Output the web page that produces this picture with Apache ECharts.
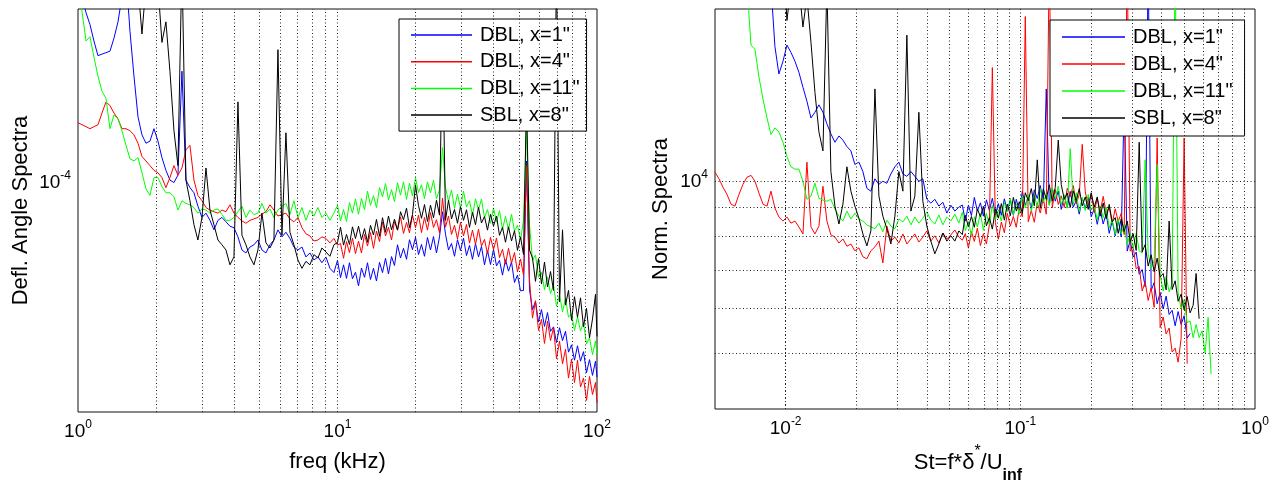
<!DOCTYPE html>
<html>
<head>
<meta charset="utf-8">
<script src="https://cdn.jsdelivr.net/npm/echarts@6/dist/echarts.min.js"></script>
<style>
html, body { margin: 0; padding: 0; background: #fff; }
#chart { width: 1279px; height: 485px; }
</style>
</head>
<body>
<div id="chart"></div>
<script>
// ---- left panel: freq (kHz) vs deflection angle spectra (values in units of 1e-5) ----
var freq = [1.00, 1.036, 1.074, 1.112, 1.152, 1.194, 1.237, 1.282, 1.328, 1.376, 1.426, 1.477, 1.531, 1.586, 1.643, 1.703, 1.764, 1.828, 1.894, 1.962,
  2.033, 2.106, 2.182, 2.261, 2.343, 2.427, 2.515, 2.606, 2.700, 2.798, 2.898, 3.004, 3.113, 3.225, 3.341, 3.462, 3.587, 3.717, 3.851, 3.990,
  4.134, 4.284, 4.438, 4.598, 4.765, 4.937, 5.115, 5.300, 5.491, 5.689, 5.895, 6.108, 6.329, 6.557, 6.794, 7.039, 7.294, 7.557, 7.830, 8.113,
  8.406, 8.709, 9.024, 9.350, 9.687,
  10.00, 10.27, 10.55, 10.83, 11.12, 11.42, 11.73, 12.05, 12.37, 12.71, 13.05, 13.40, 13.76, 14.13, 14.52, 14.91, 15.31, 15.72, 16.15, 16.58,
  17.03, 17.49, 17.96, 18.45, 18.94, 19.45, 19.98, 20.52, 21.07, 21.64, 22.22, 22.82, 23.44, 24.07, 24.72, 25.39, 26.07, 26.78, 27.50, 28.24,
  29.00, 29.78, 30.59, 31.41, 32.26, 33.13, 34.02, 34.94, 35.88, 36.85, 37.85, 38.87, 39.92, 40.99, 42.10, 43.23, 44.40, 45.60, 46.83, 48.09,
  49.39, 50.73, 52.09, 53.50, 54.94, 56.42, 57.94, 59.51, 61.11, 62.76, 64.46, 66.20, 67.98, 69.82, 71.70, 73.64, 75.62, 77.66, 79.76, 81.91,
  84.12, 86.39, 88.72, 91.11, 93.57, 96.09, 98.69, 100];

var leftBlue = [24, 21, 19.7, 18.8, 17.6, 16.6, 16.7, 16.8, 16.9, 17.8, 19.0, 21, 23, 18.3, 15.3, 13.0, 12.1, 11.7, 11.8, 12.4,
  11.8, 11.05, 10.5, 10.1, 10.0, 10.3, 15.6, 10.1, 9.8, 9.6, 9.1, 8.7, 8.85, 8.6, 8.28, 8.6, 8.7, 8.55, 8.4, 8.35,
  8.05, 7.64, 7.55, 7.73, 7.8, 7.95, 7.64, 7.55, 7.8, 7.95, 8.28, 8.05, 8.2, 8.0, 7.73, 7.64, 7.73, 7.43, 7.55, 7.34,
  7.43, 7.26, 7.43, 7.1, 6.98,
  7.33, 6.84, 7.20, 6.82, 7.26, 6.81, 6.99, 6.62, 7.11, 6.85, 7.26, 6.79, 7.10, 6.75, 7.27, 6.98, 7.39, 6.94, 7.44, 7.18,
  7.80, 7.40, 7.69, 7.36, 7.96, 7.65, 8.04, 7.50, 7.81, 7.45, 8.03, 7.64, 8.06, 7.55, 8.05, 8.9, 8.14, 7.64, 7.84, 7.45,
  7.96, 7.62, 8.01, 7.47, 7.78, 7.36, 7.84, 7.43, 7.75, 7.20, 7.62, 7.21, 7.66, 7.17, 7.33, 6.91, 7.35, 7.02, 7.28, 6.71,
  6.91, 6.49, 6.5, 10.9, 6.52, 6.02, 6.22, 5.73, 6.02, 5.63, 5.95, 5.52, 5.62, 5.28, 5.60, 5.32, 5.52, 5.08, 5.23, 4.92,
  5.21, 4.90, 5.09, 4.68, 4.93, 4.63, 4.90, 4.60];

var leftRed = [12.7, 12.6, 12.5, 12.4, 12.5, 12.6, 13.2, 13.8, 13.6, 13.2, 12.9, 12.4, 12.4, 12.3, 12.1, 11.7, 11.1, 10.9, 10.7, 10.5,
  10.4, 10.2, 9.8, 10.2, 10.7, 10.3, 10.6, 11.4, 11.6, 10.1, 9.5, 9.3, 9.05, 8.96, 8.9, 8.85, 8.96, 8.9, 9.15, 8.85,
  8.7, 8.58, 8.5, 8.6, 8.65, 8.7, 8.82, 8.9, 9.15, 8.96, 8.75, 8.8, 8.85, 8.65, 8.55, 8.7, 8.35, 8.15, 8.08, 7.92,
  7.95, 8.05, 8.0, 7.86, 8.0,
  7.79, 7.84, 7.39, 7.90, 7.56, 8.01, 7.53, 7.91, 7.55, 8.13, 7.76, 8.19, 7.69, 8.24, 7.90, 8.54, 8.08, 8.36, 7.95, 8.56,
  8.27, 8.72, 8.16, 8.53, 8.18, 8.78, 8.35, 8.78, 8.19, 8.70, 8.27, 8.87, 8.36, 8.62, 8.18, 9.4, 8.37, 8.75, 8.13, 8.43,
  7.98, 8.53, 8.08, 8.46, 7.85, 8.27, 7.81, 8.30, 7.76, 7.97, 7.52, 8.03, 7.65, 8.01, 7.41, 7.66, 7.22, 7.69, 7.25, 7.56,
  7.00, 7.37, 6.91, 10.7, 6.78, 5.82, 6.24, 5.54, 5.79, 5.26, 5.75, 5.32, 5.60, 4.95, 5.31, 4.85, 5.14, 4.58, 4.94, 4.50,
  4.92, 4.42, 4.58, 4.19, 4.61, 4.29, 4.50, 4.15];

var leftGreen = [23, 19.8, 17.6, 17.9, 16.5, 15.3, 14.4, 14.0, 12.4, 13.1, 12.9, 12.3, 11.6, 11.0, 10.9, 11.05, 10.4, 9.75, 9.5, 10.2,
  10.2, 9.85, 9.6, 9.6, 9.45, 8.96, 9.3, 9.2, 9.15, 9.05, 8.85, 9.0, 8.96, 8.85, 8.96, 9.0, 8.8, 8.6, 8.6, 8.7,
  8.9, 9.1, 8.7, 8.96, 8.8, 8.85, 9.2, 8.85, 9.0, 8.7, 8.96, 9.1, 9.2, 8.8, 9.3, 8.7, 9.05, 8.6, 8.96, 8.75,
  9.05, 8.7, 8.85, 8.6, 8.85,
  9.13, 8.58, 8.98, 8.56, 9.23, 8.85, 9.37, 8.81, 9.39, 8.97, 9.66, 9.13, 9.49, 9.05, 9.80, 9.44, 9.96, 9.33, 9.72, 9.27,
  9.99, 9.51, 10.03, 9.35, 9.97, 9.48, 10.20, 9.61, 9.91, 9.38, 10.03, 9.60, 10.09, 9.37, 9.72, 11.5, 9.80, 9.28, 9.71, 9.02,
  9.55, 9.04, 9.66, 9.07, 9.30, 8.77, 9.37, 8.98, 9.36, 8.69, 8.98, 8.50, 9.04, 8.54, 8.94, 8.29, 8.74, 8.28, 8.81, 8.24,
  8.43, 7.95, 8.6, 12.3, 8.45, 7.33, 7.49, 6.85, 6.99, 6.52, 6.86, 6.42, 6.64, 6.10, 6.38, 5.97, 6.29, 5.84, 5.92, 5.54,
  5.85, 5.53, 5.72, 5.25, 5.38, 5.03, 5.31, 5.04];

var leftBlack = [25, 25, 25, 25, 25, 25, 25, 25, 25, 25, 25, 25, 25, 25, 25, 22, 18.1, 22, 24, 24,
  22, 17.5, 19.0, 15.6, 12.3, 10.7, 24, 10.1, 9.3, 8.45, 7.95, 8.7, 10.6, 8.96, 8.45, 7.95, 7.8, 7.64, 7.2, 7.43,
  13.8, 8.1, 7.8, 7.43, 7.2, 7.64, 8.85, 7.86, 7.7, 7.95, 17.0, 8.1, 12.2, 8.2, 7.8, 7.34, 7.1, 7.3, 7.2, 7.5,
  7.4, 7.7, 7.58, 7.45, 7.8,
  7.87, 8.37, 7.79, 8.13, 7.81, 8.38, 8.00, 8.40, 7.96, 8.32, 7.88, 8.43, 8.11, 8.63, 8.07, 8.69, 8.20, 8.75, 8.28, 8.64,
  8.27, 8.90, 8.62, 9.03, 8.35, 8.80, 9.9, 9.12, 8.67, 9.16, 8.56, 9.14, 8.69, 9.32, 8.78, 18, 8.60, 9.32, 8.65, 8.98,
  8.50, 9.08, 8.60, 8.97, 8.36, 8.88, 8.45, 9.06, 8.51, 8.73, 8.27, 8.81, 8.40, 8.75, 8.10, 8.36, 7.88, 8.38, 7.92, 8.25,
  7.63, 8.05, 7.50, 14, 7.64, 7.40, 6.74, 7.38, 6.67, 7.28, 6.59, 7.01, 6.50, 25, 6.21, 8.28, 6.13, 6.50, 5.77, 6.34,
  5.84, 6.31, 5.62, 6.05, 5.38, 5.80, 6.4, 5.41];

// ---- right panel: Strouhal number vs normalised spectra (values in units of 1e3) ----
var st = [0.00500, 0.00520, 0.00541, 0.00562, 0.00585, 0.00608, 0.00633, 0.00658, 0.00684, 0.00712, 0.00740, 0.00770, 0.00801, 0.00833, 0.00866,
  0.00900, 0.00936, 0.00974, 0.01013, 0.01053, 0.01096, 0.01139, 0.01185, 0.01232, 0.01282, 0.01333, 0.01386, 0.01442, 0.01499, 0.01559,
  0.01622, 0.01687, 0.01754, 0.01824, 0.01897, 0.01973, 0.02052, 0.02134, 0.02219, 0.02308, 0.02401, 0.02497, 0.02596, 0.02700, 0.02808,
  0.02921, 0.03037, 0.03159, 0.03285, 0.03417, 0.03553, 0.03695, 0.03843, 0.03997, 0.04157, 0.04323, 0.04496, 0.04676, 0.04863, 0.05058,
  0.05260, 0.05470,
  0.0566, 0.0583, 0.0601, 0.0619, 0.0637, 0.0656, 0.0676, 0.0696, 0.0717, 0.0738, 0.0760, 0.0783, 0.0806, 0.0830, 0.0855, 0.0880, 0.0907,
  0.0934, 0.0961, 0.0990, 0.1020, 0.1050, 0.1081, 0.1114, 0.1147, 0.1181, 0.1216, 0.1253, 0.1290, 0.1329, 0.1368, 0.1409, 0.1451, 0.1494,
  0.1539, 0.1585, 0.1632, 0.1681, 0.1731, 0.1783, 0.1836, 0.1891, 0.1947, 0.2005, 0.2065, 0.2127, 0.2190, 0.2255, 0.2323, 0.2392, 0.2463,
  0.2537, 0.2613, 0.2691, 0.2771, 0.2854, 0.2939, 0.3026, 0.3117, 0.3210, 0.3305, 0.3404, 0.3506, 0.3610, 0.3718, 0.3829, 0.3943, 0.4061,
  0.4182, 0.4307, 0.4435, 0.4568, 0.4704, 0.4844, 0.4989, 0.5138, 0.5291, 0.5449, 0.5612, 0.5779, 0.5952, 0.6129, 0.6312, 0.6500];

var rightBlue = [25, 25, 25, 25, 25, 25, 25, 25, 25, 25, 25, 25, 25, 25, 22, 17.2, 15.4, 16.2, 17.3, 16.8,
  16.2, 15.5, 14.6, 13.8, 12.9, 13.2, 13.6, 13.2, 12.6, 12.1, 11.7, 12.0, 11.8, 11.5, 11.3, 10.7, 10.8, 10.4, 9.72, 9.61,
  10.1, 9.88, 10.0, 9.92, 10.3, 10.6, 10.8, 10.3, 10.2, 10.4, 10.2, 10.0, 10.1, 9.30, 9.16, 9.30, 9.05, 9.19, 8.80, 9.08,
  8.87, 9.01,
  9.09, 8.52, 9.09, 8.71, 9.37, 8.87, 9.17, 8.69, 9.28, 8.89, 9.34, 8.74, 9.14, 8.72, 9.32, 8.87, 9.28, 8.72, 9.30, 8.89,
  9.60, 9.08, 9.39, 8.97, 9.66, 9.33, 9.83, 9.17, 14.5, 9.11, 9.73, 9.23, 9.62, 8.93, 9.46, 8.99, 9.60, 9.01, 9.25, 8.76,
  9.35, 8.96, 9.37, 8.67, 8.96, 8.41, 8.92, 8.42, 8.78, 8.11, 8.52, 8.03, 8.55, 7.99, 13.8, 7.55, 7.88, 7.37, 7.52, 6.88,
  7.01, 6.54, 25, 6.44, 6.65, 6.11, 6.39, 5.98, 6.30, 5.85, 5.95, 5.59, 5.92, 5.62, 5.82, 5.32, 5.42, null, null, null,
  null, null, null, null];

var rightRed = [10.37, 10.1, 9.76, 9.49, 9.12, 9.05, 9.49, 9.88, 10.16, 10.24, 10.0, 9.53, 9.12, 9.05, 9.61, 8.98, 8.66, 8.52, 8.66, 8.45,
  8.52, 8.32, 8.09, 10.8, 8.32, 8.09, 8.35, 9.8, 8.52, 8.06, 7.99, 7.80, 7.93, 7.70, 7.77, 7.56, 7.65, 7.38, 7.32, 7.56,
  7.68, 7.86, 7.20, 8.35, 7.86, 7.99, 7.80, 8.09, 7.77, 7.93, 8.09, 7.83, 7.99, 8.19, 7.86, 8.03, 7.80, 8.12, 7.93, 8.06,
  8.22, 7.99,
  7.89, 8.10, 7.64, 8.17, 7.85, 8.28, 7.72, 8.10, 7.77, 8.39, 15.8, 8.47, 7.92, 8.49, 8.13, 8.79, 8.35, 8.68, 8.31, 8.99,
  8.67, 19.4, 8.50, 8.89, 8.48, 9.18, 8.80, 9.32, 8.76, 25, 8.99, 9.67, 9.11, 9.43, 9.00, 9.73, 9.40, 9.83, 9.14, 9.47,
  11.6, 9.58, 9.08, 9.51, 8.82, 9.34, 8.85, 9.41, 8.80, 9.00, 8.45, 8.95, 8.50, 8.79, 8.07, 25, 7.55, 7.69, 7.03, 7.10,
  6.43, 6.67, 6.19, 6.51, 6.02, 11.9, 5.55, 5.79, 5.41, 5.54, 5.03, 5.11, 4.83, 5.31, 11.9, 4.80, null, null, null, null,
  null, null, null, null];

var rightGreen = [25, 25, 25, 25, 25, 25, 25, 25, 22, 17.3, 17.0, 15.2, 13.9, 12.9, 12.07, 12.4, 12.2, 11.7, 11.05, 10.6,
  10.5, 10.5, 10.0, 9.3, 9.42, 9.92, 9.34, 9.27, 9.23, 9.30, 8.94, 8.69, 8.52, 8.87, 8.59, 8.80, 8.59, 8.52, 8.39, 8.32,
  8.26, 8.45, 8.16, 8.55, 8.35, 8.26, 8.59, 8.49, 8.69, 8.39, 8.66, 8.45, 8.62, 8.84, 8.55, 8.42, 8.73, 8.39, 8.66, 8.52,
  8.76, 8.45,
  8.83, 8.20, 8.50, 8.04, 8.67, 8.32, 8.78, 8.21, 8.79, 8.40, 9.08, 8.58, 8.92, 8.52, 9.18, 8.85, 9.34, 8.74, 9.14, 8.76,
  9.43, 8.98, 9.47, 8.86, 9.46, 9.02, 9.71, 9.19, 9.51, 9.07, 9.73, 9.33, 9.80, 9.10, 9.47, 8.97, 11.4, 9.11, 9.55, 8.86,
  9.37, 8.89, 9.48, 8.90, 9.07, 8.55, 9.06, 8.64, 9.01, 8.29, 8.57, 8.08, 8.60, 8.09, 8.39, 7.73, 8.12, 7.62, 8.11, 7.56,
  7.49, 10.9, 7.48, 7.05, 7.28, 10.7, 6.85, 6.43, 6.82, 6.41, 6.63, 25, 6.39, 5.98, 6.21, 5.66, 5.70, 5.33, 5.62, 5.33,
  5.48, 5.01, 5.78, 4.6];

var rightBlack = [25, 25, 25, 25, 25, 25, 25, 25, 25, 25, 25, 25, 25, 25, 25, 25, 25, 25, 19.1, 22,
  24, 22, 18.6, 21, 17.5, 14.3, 12.2, 11.3, 22, 10.4, 9.05, 8.42, 9.12, 10.6, 9.61, 9.05, 8.62, 8.09, 7.71, 8.19,
  14.5, 9.42, 8.69, 8.26, 7.77, 8.69, 10.4, 9.61, 18.0, 8.87, 9.42, 13.2, 9.23, 8.35, 7.86, 7.47, 7.77, 8.12, 7.86, 8.03,
  7.86, 8.19,
  8.07, 8.72, 8.32, 8.68, 8.31, 8.95, 8.67, 9.04, 8.36, 8.64, 8.25, 8.95, 8.62, 9.14, 8.55, 9.12, 8.71, 9.37, 8.87, 9.21,
  8.79, 9.55, 9.25, 9.71, 9.06, 10.9, 8.97, 9.70, 9.30, 9.86, 9.23, 9.76, 11.8, 9.87, 9.30, 9.54, 9.00, 9.62, 9.25, 9.71,
  9.06, 9.39, 8.93, 9.55, 9.01, 9.39, 8.69, 9.16, 8.60, 9.11, 8.49, 8.64, 8.11, 8.60, 8.17, 8.52, 7.85, 8.10, 7.57, 11.7,
  7.53, 7.75, 7.11, 7.44, 6.95, 7.34, 6.80, 6.90, 6.46, 8.52, 6.47, 6.70, 6.17, 6.35, 5.96, 6.29, 5.89, 6.07, 6.9, 5.75,
  null, null, null, null];

var names = ['DBL, x=1"', 'DBL, x=4"', 'DBL, x=11"', 'SBL, x=8"'];
var colors = ['#0000ff', '#ff0000', '#00ff00', '#000000'];

// grid line positions (MATLAB style log grid)
var leftGridX = [2, 3, 4, 5, 6, 7, 8, 9, 10, 20, 30, 40, 50, 60, 70, 80, 90];
var leftGridY = [5e-5, 6e-5, 7e-5, 8e-5, 9e-5, 1e-4];
var rightGridX = [0.006, 0.007, 0.008, 0.009, 0.01, 0.02, 0.03, 0.04, 0.05, 0.06, 0.07, 0.08, 0.09, 0.1,
  0.2, 0.3, 0.4, 0.5, 0.6, 0.7, 0.8, 0.9];
var rightGridY = [5000, 6000, 7000, 8000, 9000, 10000];

var FONT = '"Liberation Sans", Arial, sans-serif';

function pairs(xs, ys, scale) {
  if (xs.length !== ys.length) throw new Error('length mismatch ' + xs.length + ' vs ' + ys.length);
  return xs.map(function (x, i) {
    return [x, ys[i] == null ? null : ys[i] * scale];
  });
}

function powLabel(v) {
  var l = Math.log10(v);
  var e = Math.round(l);
  if (Math.abs(l - e) > 1e-6) return '';
  return '{b|10}{e|' + e + '}';
}

var labelRich = {
  b: { fontSize: 19, lineHeight: 26, color: '#000', fontFamily: FONT },
  e: { fontSize: 12, color: '#000', fontFamily: FONT, verticalAlign: 'top' }
};

function logAxis(gi, min, max, extra) {
  var ax = {
    type: 'log', logBase: 10, gridIndex: gi, min: min, max: max,
    axisLine: { show: false }, axisTick: { show: false }, splitLine: { show: false },
    axisLabel: { formatter: powLabel, rich: labelRich, margin: 7 },
    nameLocation: 'middle',
    nameTextStyle: { fontSize: 22, color: '#000', fontFamily: FONT }
  };
  for (var k in extra) ax[k] = extra[k];
  return ax;
}

function gridLines(idx, xs, ys) {
  return {
    type: 'line', xAxisIndex: idx, yAxisIndex: idx, data: [], silent: true, z: 1,
    markLine: {
      silent: true, animation: false, symbol: ['none', 'none'],
      label: { show: false }, emphasis: { disabled: true },
      lineStyle: { color: '#222', width: 1, type: [1, 2.5] },
      data: xs.map(function (v) { return { xAxis: v }; })
        .concat(ys.map(function (v) { return { yAxis: v }; }))
    }
  };
}

function spectrum(idx, i, xs, ys, scale) {
  return {
    type: 'line', name: names[i], xAxisIndex: idx, yAxisIndex: idx,
    data: pairs(xs, ys, scale), symbol: 'none', showSymbol: false, silent: true, z: 2,
    lineStyle: { width: 1, color: colors[i] }, itemStyle: { color: colors[i] },
    emphasis: { disabled: true }
  };
}

function legendBox(left, top, lineLen, gap, pad) {
  return {
    data: names, orient: 'vertical', left: left, top: top, selectedMode: false,
    icon: 'rect', itemWidth: lineLen, itemHeight: 1.5, itemGap: gap, padding: pad,
    borderColor: '#000', borderWidth: 1, backgroundColor: '#fff', borderRadius: 0,
    textStyle: { fontSize: 20, lineHeight: 20, color: '#000', fontFamily: FONT, padding: [0, 0, 0, 3] }
  };
}

var chart = echarts.init(document.getElementById('chart'));
chart.setOption({
  animation: false,
  color: colors,
  textStyle: { fontFamily: FONT },
  grid: [
    { left: 78, top: 9, width: 519, height: 403, show: true, borderColor: '#111', borderWidth: 1, backgroundColor: '#fff', outerBoundsMode: 'none', containLabel: false },
    { left: 715, top: 9, width: 540, height: 400, show: true, borderColor: '#111', borderWidth: 1, backgroundColor: '#fff', outerBoundsMode: 'none', containLabel: false }
  ],
  xAxis: [
    logAxis(0, 1, 100, { name: 'freq (kHz)', nameGap: 39 }),
    logAxis(1, 0.005, 1, {
      name: '{n|St=f*δ}{sup|*}{n|/U}{sub|inf}', nameGap: 33,
      nameTextStyle: {
        fontSize: 22, color: '#000', fontFamily: FONT, padding: [0, 34, 0, 0],
        rich: {
          n: { fontSize: 22, color: '#000', fontFamily: FONT },
          sup: { fontSize: 16, color: '#000', fontFamily: FONT, verticalAlign: 'top' },
          sub: { fontSize: 16, color: '#000', fontFamily: FONT, fontWeight: 'bold', verticalAlign: 'bottom', padding: [24, 0, 0, 0] }
        }
      }
    })
  ],
  yAxis: [
    logAxis(0, 4e-5, 2e-4, { name: 'Defl. Angle Spectra', nameGap: 46 }),
    logAxis(1, 4000, 20000, { name: 'Norm. Spectra', nameGap: 43 })
  ],
  legend: [
    legendBox(399, 19, 61, 6.7, [6, 7, 6, 12]),
    legendBox(1050, 20, 63, 7, [7, 12, 8, 12])
  ],
  series: [
    gridLines(0, leftGridX, leftGridY),
    gridLines(1, rightGridX, rightGridY),
    spectrum(0, 0, freq, leftBlue, 1e-5),
    spectrum(0, 1, freq, leftRed, 1e-5),
    spectrum(0, 2, freq, leftGreen, 1e-5),
    spectrum(0, 3, freq, leftBlack, 1e-5),
    spectrum(1, 0, st, rightBlue, 1e3),
    spectrum(1, 1, st, rightRed, 1e3),
    spectrum(1, 2, st, rightGreen, 1e3),
    spectrum(1, 3, st, rightBlack, 1e3)
  ]
});
</script>
</body>
</html>
